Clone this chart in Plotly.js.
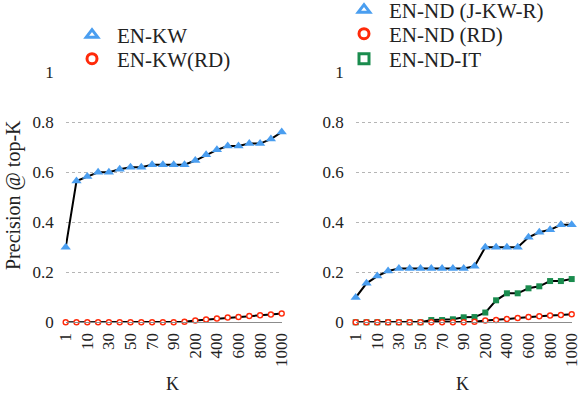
<!DOCTYPE html>
<html>
<head>
<meta charset="utf-8">
<script src="https://cdn.plot.ly/plotly-3.0.1.min.js"></script>
<style>
  html, body { margin: 0; padding: 0; background: #fff; }
  #chart { width: 578px; height: 394px; }
</style>
</head>
<body>
<div id="chart"></div>
<script>
// K values (category axis) and the ones that get a label
const kCats = ["1", "5", "10", "20", "30", "40", "50", "60", "70", "80", "90", "100",
               "200", "300", "400", "500", "600", "700", "800", "900", "1000"];
const kTicks = ["1", "10", "30", "50", "70", "90", "200", "400", "600", "800", "1000"];

// left panel
const enKW = [0.30, 0.565, 0.583, 0.60, 0.60, 0.612, 0.62, 0.62, 0.63, 0.63, 0.63, 0.63,
              0.647, 0.67, 0.69, 0.705, 0.705, 0.715, 0.715, 0.733, 0.761];
const enKWRD = [0, 0, 0, 0, 0, 0, 0, 0, 0, 0, 0, 0.002,
                0.007, 0.011, 0.015, 0.019, 0.021, 0.025, 0.028, 0.031, 0.035];

// right panel
const enND = [0.099, 0.156, 0.185, 0.205, 0.215, 0.215, 0.215, 0.215, 0.215, 0.215, 0.215, 0.224,
              0.30, 0.30, 0.30, 0.30, 0.34, 0.36, 0.37, 0.39, 0.39];
const enNDRD = [0, 0, 0, 0, 0, 0, 0, 0, 0, 0, 0, 0.002,
                0.007, 0.009, 0.013, 0.017, 0.021, 0.024, 0.027, 0.029, 0.032];
const enNDIT = [0, 0, 0, 0, 0, 0, 0, 0.009, 0.009, 0.012, 0.02, 0.021,
                0.039, 0.088, 0.116, 0.116, 0.136, 0.144, 0.165, 0.165, 0.173];

const BLUE = "#4a9ef0";
const RED = "#ff2a0a";
const GREEN = "#1a8c4e";
const FONT = "Liberation Serif";
const INK = "#222";
const W = 578, H = 394;

const triMarker = { symbol: "triangle-up", size: 9, color: BLUE };
const circMarker = { symbol: "circle", size: 5, color: "#fff", line: { color: RED, width: 1.4 } };
const sqMarker = { symbol: "square", size: 6, color: GREEN };

function serie(y, marker, xa, ya) {
    return {
        x: kCats, y: y, xaxis: xa, yaxis: ya,
        mode: "lines+markers",
        line: { color: "#000", width: 2 },
        marker: marker,
        cliponaxis: false,
        showlegend: false,
        hoverinfo: "x+y",
    };
}

// each legend entry gets its own little legend box so rows can be placed freely
function legendItem(name, symbol, color, legend) {
    return {
        x: [null], y: [null],
        name: name, legend: legend,
        mode: "markers",
        marker: { symbol: symbol, size: 10, color: color, line: { color: color, width: 3 } },
    };
}

const traces = [
    serie(enKW, triMarker, "x", "y"),
    serie(enKWRD, circMarker, "x", "y"),
    serie(enND, triMarker, "x2", "y2"),
    serie(enNDIT, sqMarker, "x2", "y2"),
    serie(enNDRD, circMarker, "x2", "y2"),
    legendItem("EN-KW", "triangle-up-open", BLUE, "legend"),
    legendItem("EN-KW(RD)", "circle-open", RED, "legend2"),
    legendItem("EN-ND (J-KW-R)", "triangle-up-open", BLUE, "legend3"),
    legendItem("EN-ND (RD)", "circle-open", RED, "legend4"),
    legendItem("EN-ND-IT", "square-open", GREEN, "legend5"),
];

const xBase = {
    type: "category",
    range: [0, 20],
    tickmode: "array",
    tickvals: kTicks,
    ticktext: kTicks,
    tickangle: -90,
    ticks: "",
    ticklabelstandoff: 3,
    showgrid: false,
    showline: true,
    linecolor: "#8c8c8c",
    linewidth: 1,
    zeroline: false,
    tickfont: { family: FONT, size: 17, color: INK },
};

const yBase = {
    range: [0, 1],
    tickmode: "array",
    tickvals: [0, 0.2, 0.4, 0.6, 0.8, 1],
    ticktext: ["0", "0.2", "0.4", "0.6", "0.8", "1"],
    ticks: "",
    ticklabelstandoff: 11,
    showgrid: true,
    gridcolor: "#b5b5b5",
    griddash: "dot",
    gridwidth: 1,
    zeroline: false,
    showline: false,
    tickfont: { family: FONT, size: 17, color: INK },
};

function legendAt(px, py) {
    return {
        xref: "paper", yref: "paper",
        x: px / W, y: 1 - py / H,
        xanchor: "left", yanchor: "middle",
        bgcolor: "rgba(0,0,0,0)",
        font: { family: FONT, size: 21, color: INK },
        itemwidth: 40,
    };
}

const layout = {
    width: W, height: H,
    font: { family: FONT, size: 17, color: INK },
    margin: { l: 0, r: 0, t: 0, b: 0, pad: 0, autoexpand: false },
    paper_bgcolor: "#fff",
    plot_bgcolor: "#fff",
    xaxis: { ...xBase, domain: [65.7 / W, 281.7 / W], anchor: "y" },
    yaxis: { ...yBase, domain: [71.7 / H, 321.7 / H], anchor: "x" },
    xaxis2: { ...xBase, domain: [355.7 / W, 571.7 / W], anchor: "y2" },
    yaxis2: { ...yBase, domain: [71.7 / H, 321.7 / H], anchor: "x2" },
    legend: legendAt(67, 35),
    legend2: legendAt(67, 59),
    legend3: legendAt(339, 10),
    legend4: legendAt(339, 34),
    legend5: legendAt(339, 59),
    annotations: [
        {
            text: "Precision @ top-K", textangle: -90,
            xref: "paper", yref: "paper", x: 13 / W, y: 1 - 195 / H,
            xanchor: "center", yanchor: "middle",
            showarrow: false, font: { family: FONT, size: 20, color: INK },
        },
        {
            text: "K", xref: "paper", yref: "paper", x: 172 / W, y: 1 - 384 / H,
            xanchor: "center", yanchor: "middle",
            showarrow: false, font: { family: FONT, size: 18, color: INK },
        },
        {
            text: "K", xref: "paper", yref: "paper", x: 462 / W, y: 1 - 384 / H,
            xanchor: "center", yanchor: "middle",
            showarrow: false, font: { family: FONT, size: 18, color: INK },
        },
    ],
};

Plotly.newPlot("chart", traces, layout, { displayModeBar: false, staticPlot: true });
</script>
</body>
</html>
